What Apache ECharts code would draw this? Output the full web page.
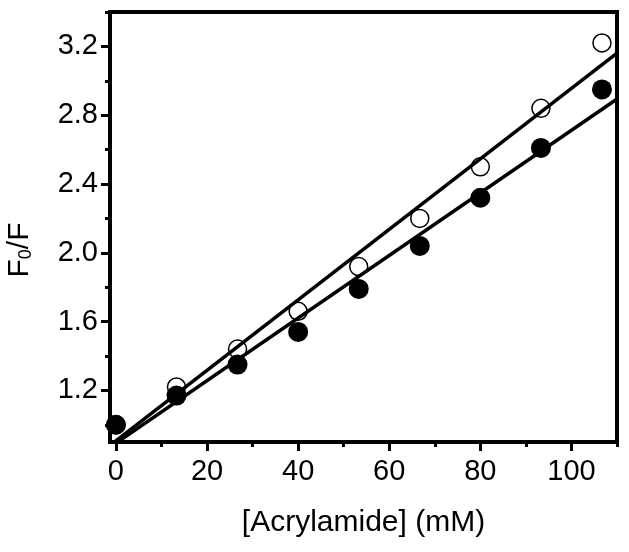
<!DOCTYPE html>
<html>
<head>
<meta charset="utf-8">
<script src="https://cdn.jsdelivr.net/npm/echarts@6/dist/echarts.min.js"></script>
<style>
  html, body { margin: 0; padding: 0; background: #fff; }
  #chart { width: 629px; height: 552px; }
</style>
</head>
<body>
<div id="chart"></div>
<script>
// acrylamide concentration (mM)
const concentration = [0, 13.3, 26.7, 40, 53.3, 66.7, 80, 93.3, 106.7]
// F0/F, open circles
const openSeries = [1.0, 1.22, 1.44, 1.66, 1.92, 2.2, 2.5, 2.84, 3.22]
// F0/F, filled circles
const filledSeries = [1.0, 1.17, 1.35, 1.54, 1.79, 2.04, 2.32, 2.61, 2.95]

const xTicks = [0, 20, 40, 60, 80, 100]
const xMinorTicks = [10, 30, 50, 70, 90, 110]
const yTicks = [1.2, 1.6, 2.0, 2.4, 2.8, 3.2]
const yMinorTicks = [1.0, 1.4, 1.8, 2.2, 2.6, 3.0, 3.4]

const xRange = [-1.3, 110]
const yRange = [0.9, 3.4]

// least squares Stern-Volmer fit through the points
function linearFit(xs, ys) {
  const n = xs.length
  const mx = xs.reduce((a, b) => a + b, 0) / n
  const my = ys.reduce((a, b) => a + b, 0) / n
  let sxy = 0
  let sxx = 0
  for (let i = 0; i < n; i++) {
    sxy += (xs[i] - mx) * (ys[i] - my)
    sxx += (xs[i] - mx) * (xs[i] - mx)
  }
  const slope = sxy / sxx
  const b = my - slope * mx
  return xRange.map(x => [x, b + slope * x])
}

const pair = (ys) => concentration.map((x, i) => [x, ys[i]])

const font = "'Liberation Sans', Arial, sans-serif"
const chart = echarts.init(document.getElementById('chart'))

const tickLabel = {
  color: '#000',
  fontSize: 29,
  fontFamily: font
}

chart.setOption({
  animation: false,
  grid: {
    left: 110,
    right: 12,
    top: 12,
    bottom: 110,
    show: true,
    borderColor: '#000',
    borderWidth: 4
  },
  xAxis: [
    {
      type: 'value',
      min: xRange[0],
      max: xRange[1],
      position: 'bottom',
      axisLine: { show: true, onZero: false, lineStyle: { color: '#000', width: 4 } },
      axisTick: { show: true, customValues: xTicks, length: 9, lineStyle: { color: '#000', width: 3 } },
      axisLabel: { customValues: xTicks, margin: 15, ...tickLabel },
      splitLine: { show: false },
      name: '[Acrylamide] (mM)',
      nameLocation: 'middle',
      nameGap: 66,
      nameTextStyle: { color: '#000', fontSize: 30, fontFamily: font }
    },
    {
      type: 'value',
      min: xRange[0],
      max: xRange[1],
      position: 'bottom',
      axisLine: { show: false, onZero: false },
      axisTick: { show: true, customValues: xMinorTicks, length: 5, lineStyle: { color: '#000', width: 3 } },
      axisLabel: { show: false },
      splitLine: { show: false }
    }
  ],
  yAxis: [
    {
      type: 'value',
      min: yRange[0],
      max: yRange[1],
      position: 'left',
      axisLine: { show: true, onZero: false, lineStyle: { color: '#000', width: 4 } },
      axisTick: { show: true, customValues: yTicks, length: 9, lineStyle: { color: '#000', width: 3 } },
      axisLabel: { customValues: yTicks, margin: 12, formatter: v => v.toFixed(1), ...tickLabel },
      splitLine: { show: false }
    },
    {
      type: 'value',
      min: yRange[0],
      max: yRange[1],
      position: 'left',
      axisLine: { show: false, onZero: false },
      axisTick: { show: true, customValues: yMinorTicks, length: 5, lineStyle: { color: '#000', width: 3 } },
      axisLabel: { show: false },
      splitLine: { show: false }
    }
  ],
  graphic: [
    {
      type: 'text',
      x: 20,
      y: 250,
      rotation: Math.PI / 2,
      style: {
        text: '{a|F}{b|0}{a|/F}',
        align: 'center',
        verticalAlign: 'middle',
        fill: '#000',
        rich: {
          a: { fontSize: 30, fontFamily: font, fill: '#000' },
          b: { fontSize: 18, fontFamily: font, fill: '#000', padding: [12, 0, 0, 0] }
        }
      }
    }
  ],
  series: [
    {
      name: 'open',
      type: 'scatter',
      data: pair(openSeries),
      symbol: 'circle',
      symbolSize: 18,
      itemStyle: { color: '#fff', borderColor: '#000', borderWidth: 1.5, opacity: 1 },
      z: 2
    },
    {
      name: 'filled',
      type: 'scatter',
      data: pair(filledSeries),
      symbol: 'circle',
      symbolSize: 20,
      itemStyle: { color: '#000', opacity: 1 },
      z: 3
    },
    {
      name: 'open fit',
      type: 'line',
      data: linearFit(concentration, openSeries),
      symbol: 'none',
      clip: true,
      lineStyle: { color: '#000', width: 3.5 },
      z: 4
    },
    {
      name: 'filled fit',
      type: 'line',
      data: linearFit(concentration, filledSeries),
      symbol: 'none',
      clip: true,
      lineStyle: { color: '#000', width: 3.5 },
      z: 4
    }
  ]
})
</script>
</body>
</html>
